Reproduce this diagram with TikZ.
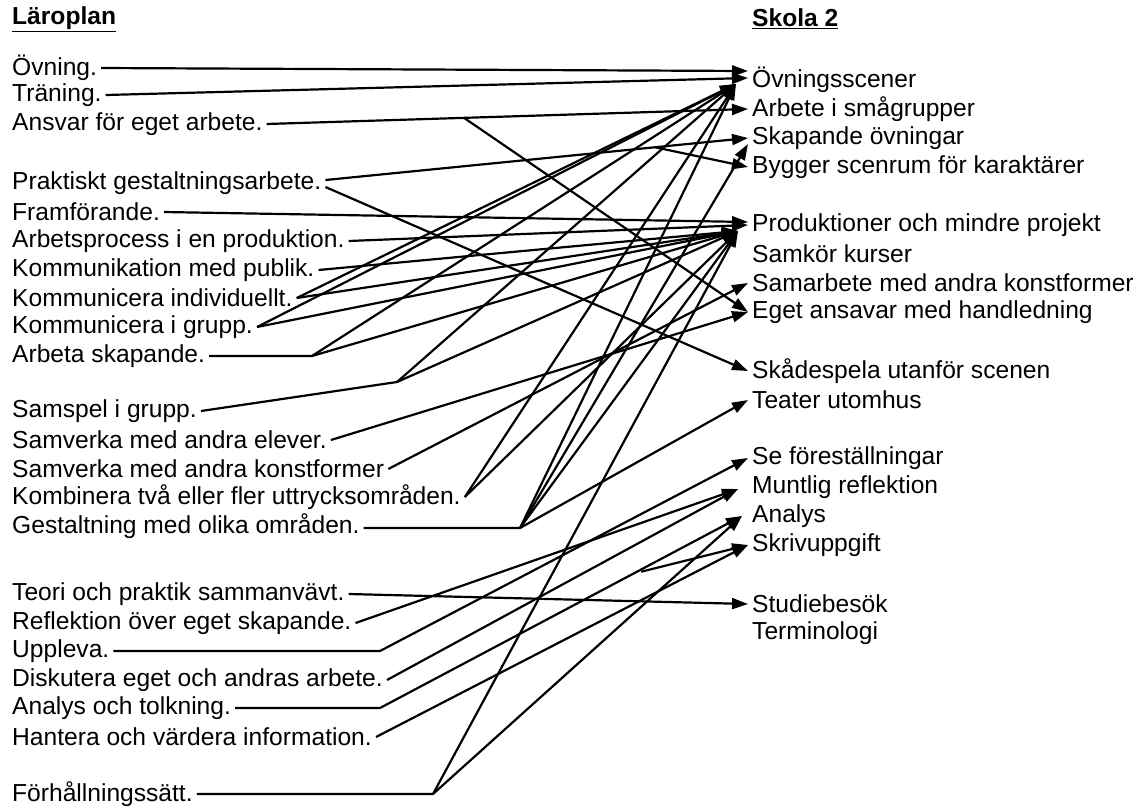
\documentclass[tikz,border=0pt]{standalone}
\usepackage{fontspec}
\setmainfont{Liberation Sans}
\usetikzlibrary{arrows.meta,calc}

\begin{document}
\begin{tikzpicture}[x=1pt,y=-1pt,
  lp/.style={anchor=west,inner sep=4pt,font=\fontsize{24.6}{29}\selectfont},
  link/.style={line width=2.2pt},
  arr/.style={line width=2.2pt,-{Triangle[length=16pt,width=11pt]}}]
\useasboundingbox (0,0) rectangle (1146,807);

% rubriker
\node[lp] (hlp) at (8,19) {\underline{\textbf{Läroplan}}};
\node[lp] (hsk) at (748,19) {\underline{\textbf{Skola 2}}};

% läroplan
\node[lp] (ovn) at (8,68) {Övning.};
\node[lp] (tra) at (8,95) {Träning.};
\node[lp] (ans) at (8,124) {Ansvar för eget arbete.};
\node[lp] (pra) at (8,183) {Praktiskt gestaltningsarbete.};
\node[lp] (fram) at (8,212) {Framförande.};
\node[lp] (arbp) at (8,241) {Arbetsprocess i en produktion.};
\node[lp] (kpub) at (8,270) {Kommunikation med publik.};
\node[lp] (kind) at (8,298) {Kommunicera individuellt.};
\node[lp] (kgrp) at (8,327) {Kommunicera i grupp.};
\node[lp] (arbs) at (8,356) {Arbeta skapande.};
\node[lp] (sams) at (8,411) {Samspel i grupp.};
\node[lp] (svel) at (8,440) {Samverka med andra elever.};
\node[lp] (svko) at (8,469) {Samverka med andra konstformer};
\node[lp] (komb) at (8,497) {Kombinera två eller fler uttrycksområden.};
\node[lp] (gest) at (8,526) {Gestaltning med olika områden.};
\node[lp] (teori) at (8,594) {Teori och praktik sammanvävt.};
\node[lp] (refl) at (8,623) {Reflektion över eget skapande.};
\node[lp] (upp) at (8,651) {Uppleva.};
\node[lp] (disk) at (8,680) {Diskutera eget och andras arbete.};
\node[lp] (anto) at (8,708) {Analys och tolkning.};
\node[lp] (hant) at (8,737) {Hantera och värdera information.};
\node[lp] (forh) at (8,794) {Förhållningssätt.};

% skola 2
\node[lp] (ovsc) at (748,80) {Övningsscener};
\node[lp] (smag) at (748,109) {Arbete i smågrupper};
\node[lp] (skov) at (748,138) {Skapande övningar};
\node[lp] (bygg) at (748,167) {Bygger scenrum för karaktärer};
\node[lp] (prod) at (748,225) {Produktioner och mindre projekt};
\node[lp] (samk) at (748,254) {Samkör kurser};
\node[lp] (samko) at (748,283) {Samarbete med andra konstformer};
\node[lp] (eget) at (748,312) {Eget ansavar med handledning};
\node[lp] (skad) at (748,371) {Skådespela utanför scenen};
\node[lp] (teat) at (748,400) {Teater utomhus};
\node[lp] (sefo) at (748,458) {Se föreställningar};
\node[lp] (munt) at (748,487) {Muntlig reflektion};
\node[lp] (analys) at (748,516) {Analys};
\node[lp] (skriv) at (748,545) {Skrivuppgift};
\node[lp] (stud) at (748,604) {Studiebesök};
\node[lp] (term) at (748,633) {Terminologi};

% knäckpunkter och samlingspunkter
\coordinate (kArb) at (312,356);
\coordinate (kSam) at (397,382);
\coordinate (kGes) at (520,528);
\coordinate (kUpp) at (380,651);
\coordinate (kAnt) at (380,708);
\coordinate (kFor) at (433,794);
\coordinate (tOvn) at ([xshift=-12pt,yshift=-4pt]ovsc.west);
\coordinate (tPro) at ([xshift=-10pt,yshift=-6pt]prod.west);
\coordinate (tMun) at ([xshift=-10pt,yshift=-2pt]munt.west);
\coordinate (bAns) at ($(ans.east)!0.41!(smag.west)$);
\coordinate (bPra) at ($([yshift=3pt]pra.east)!0.78!(skov.west)$);
\coordinate (bAnt) at ($(kAnt)!0.71!(analys.west)$);

\draw[link] (arbs.east) -- (kArb)
  (sams.east) -- (kSam)
  ([yshift=-2pt]gest.east) -- (kGes)
  (upp.east) -- (kUpp)
  (anto.east) -- (kAnt)
  (forh.east) -- (kFor);

\draw[arr] (ovn.east) to ([yshift=9pt]ovsc.west);
\draw[arr] (tra.east) to ([yshift=2pt]ovsc.west);
\draw[arr] (ans.east) to (smag.west);
\draw[arr] (bAns) to (eget.west);
\draw[arr] ([yshift=3pt]pra.east) to (skov.west);
\draw[arr] (bPra) to (bygg.west);
\draw[arr] ([yshift=-4pt]pra.east) to (skad.west);
\draw[arr] (fram.east) to ([yshift=3pt]prod.west);
\draw[arr] (arbp.east) to (prod.west);
\draw[arr] (kpub.east) to (tPro);
\draw (kind.east) edge[arr] (tOvn) edge[arr] (tPro);
\draw (kgrp.east) edge[arr] (tOvn) edge[arr] (tPro);
\draw (kArb) edge[arr] (tOvn) edge[arr] (tPro);
\draw (kSam) edge[arr] (tOvn) edge[arr] (tPro);
\draw[arr] (svel.east) to (eget.west);
\draw[arr] (svko.east) to (samko.west);
\draw (komb.east) edge[arr] (tOvn) edge[arr] (tPro);
\draw (kGes) edge[arr] (tOvn) edge[arr] ([yshift=-6pt]skov.west)
  edge[arr] (tPro) edge[arr] (teat.west);
\draw[arr] (teori.east) to (stud.west);
\draw[arr] (refl.east) to (tMun);
\draw[arr] (kUpp) to (sefo.west);
\draw[arr] (disk.east) to (tMun);
\draw[arr] (kAnt) to ([xshift=-6pt]analys.west);
\draw[arr] (bAnt) to (skriv.west);
\draw[arr] (hant.east) to (skriv.west);
\draw (kFor) edge[arr] (tPro) edge[arr] ([xshift=-6pt]analys.west);

\end{tikzpicture}
\end{document}
